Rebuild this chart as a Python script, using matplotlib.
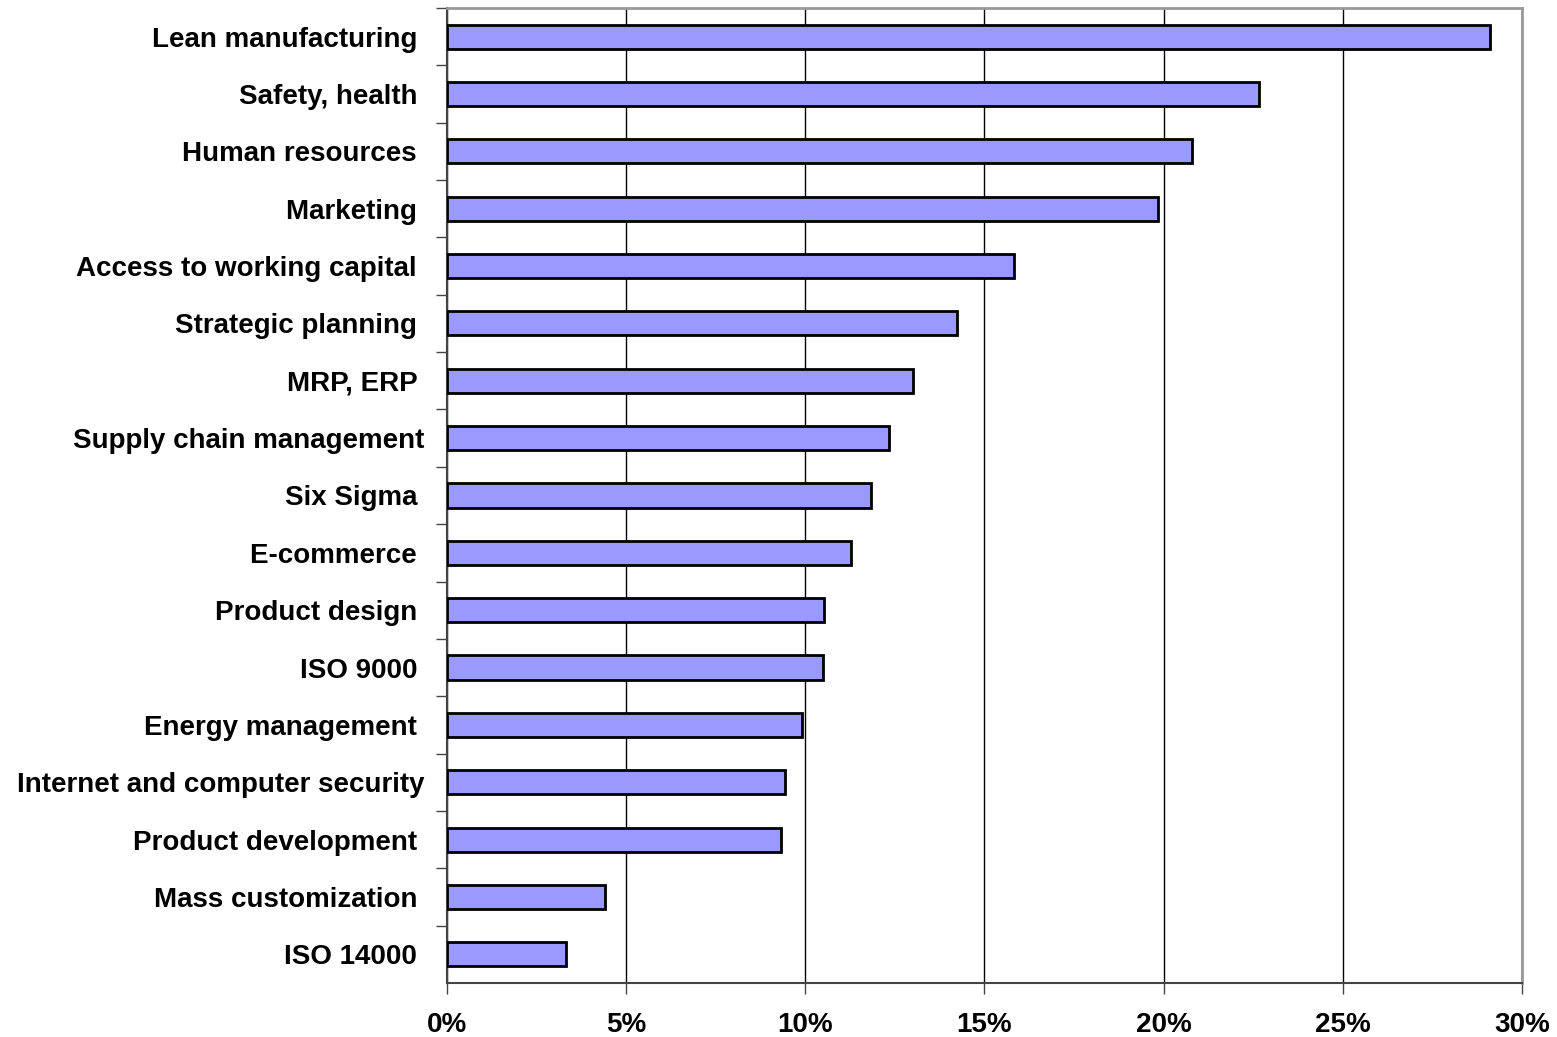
import matplotlib.pyplot as plt
from matplotlib.ticker import FuncFormatter, MultipleLocator

plt.rcParams['font.family'] = ['Liberation Sans', 'DejaVu Sans']

# topics, top to bottom, with the share of firms (%)
topics = ['Lean manufacturing ', 'Safety, health ', 'Human resources ', 'Marketing ',
          'Access to working capital ', 'Strategic planning ', 'MRP, ERP ',
          'Supply chain management', 'Six Sigma ', 'E-commerce ', 'Product design ',
          'ISO 9000 ', 'Energy management ', 'Internet and computer security',
          'Product development ', 'Mass customization ', 'ISO 14000 ']
shares = [29.1, 22.66, 20.79, 19.84, 15.82, 14.23, 13.0, 12.34, 11.83, 11.28,
          10.52, 10.49, 9.91, 9.43, 9.32, 4.41, 3.32]

fig = plt.figure(figsize=(15.57, 10.37), dpi=100)
ax = fig.add_axes([0.2871, 0.0521, 0.6904, 0.9402])

pos = list(range(len(topics)))[::-1]
ax.barh(pos, shares, height=0.42, color='#9999ff', edgecolor='black', linewidth=2, zorder=3)

ax.set_xlim(0, 30)
ax.set_ylim(-0.5, len(topics) - 0.5)
ax.xaxis.set_major_locator(MultipleLocator(5))
ax.xaxis.set_major_formatter(FuncFormatter(lambda v, p: f'{v:.0f}%'))
ax.grid(axis='x', color='black', linewidth=1, zorder=0)

ax.set_yticks(pos)
ax.set_yticklabels(topics, fontsize=20, fontweight='bold')
ax.set_yticks([p + 0.5 for p in range(len(topics))], minor=True)
ax.tick_params(axis='y', which='major', length=0, pad=16)
ax.tick_params(axis='y', which='minor', length=8, width=1, color='#444444')
ax.tick_params(axis='x', length=8, width=1, color='#444444', pad=13, labelsize=20)
for lbl in ax.get_xticklabels():
    lbl.set_fontweight('bold')

for side in ['top', 'right']:
    ax.spines[side].set_color('#999999')
    ax.spines[side].set_linewidth(2)
for side in ['left', 'bottom']:
    ax.spines[side].set_color('#444444')
    ax.spines[side].set_linewidth(1.5)

fig.savefig('out.png', dpi=100)
